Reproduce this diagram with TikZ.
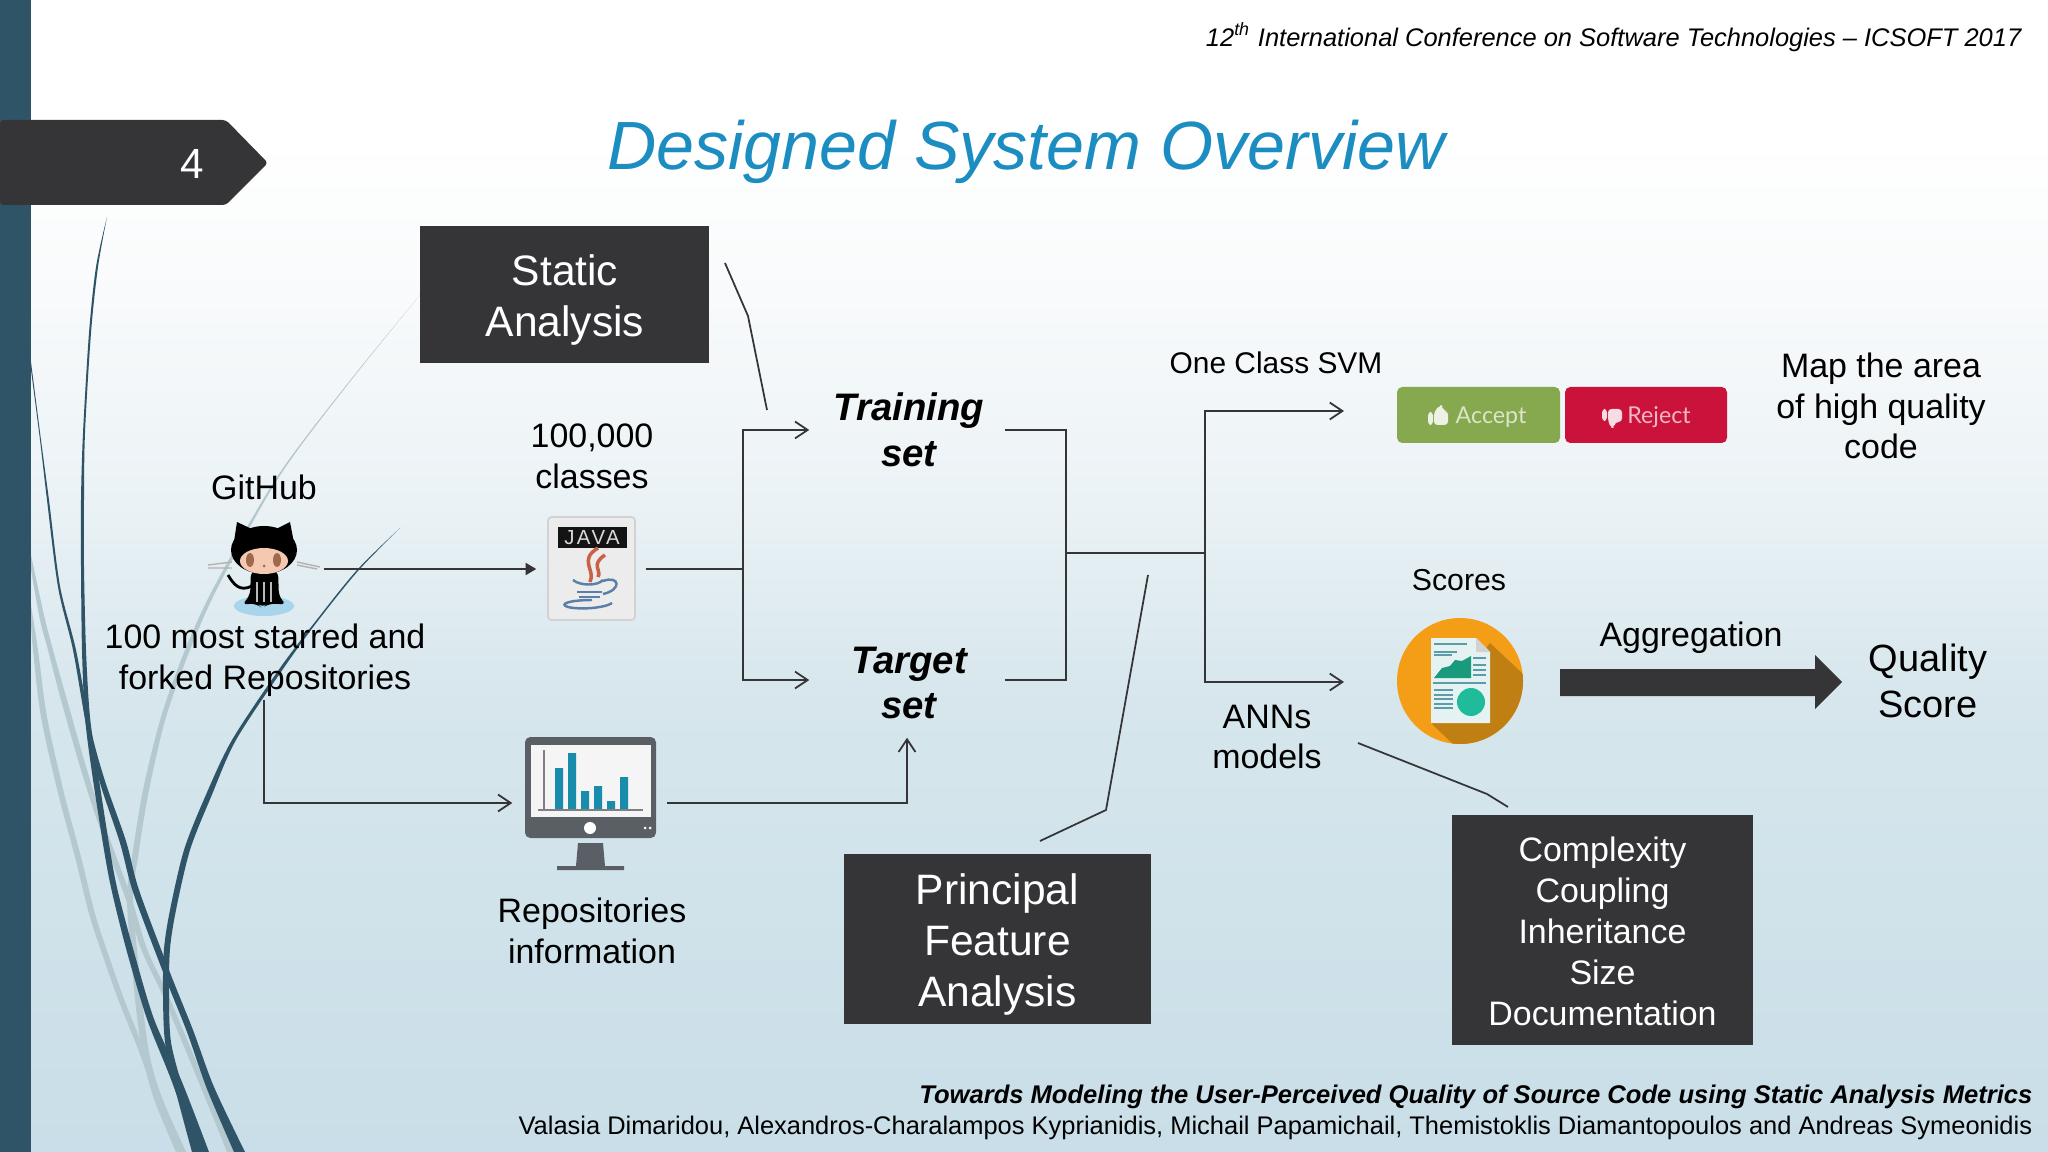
\documentclass[tikz,border=0pt]{standalone}
\usepackage{fontspec}
\setmainfont{Liberation Sans}
\newfontfamily\latofont{Lato}
\usetikzlibrary{arrows.meta}
\definecolor{slidedark}{HTML}{353538}
\definecolor{bandblue}{HTML}{2F5468}
\definecolor{swooshgrey}{HTML}{B4C8CF}
\definecolor{titleblue}{HTML}{1C8DC0}
\definecolor{barteal}{HTML}{1A8CAB}
\definecolor{screengrey}{HTML}{5A5F66}
\definecolor{docline}{HTML}{5C9CA8}
\definecolor{bgbot}{HTML}{C9DEE8}
\definecolor{bgmid}{HTML}{D6E6EC}
\definecolor{bgpale}{HTML}{ECF3F6}
\definecolor{bgtop}{HTML}{F8FAFB}
\definecolor{acceptgreen}{HTML}{86A84F}
\definecolor{rejectred}{HTML}{CA123A}
\definecolor{reportorange}{HTML}{F49E17}
\definecolor{reportshadow}{HTML}{BF7F12}
\definecolor{chartgreen}{HTML}{1A9A7C}
\definecolor{piegreen}{HTML}{1FBB9A}
\definecolor{catskin}{HTML}{F4C9B0}
\definecolor{cateye}{HTML}{A0694F}
\definecolor{catpool}{HTML}{A8D4EC}
\definecolor{steamred}{HTML}{C8604A}
\definecolor{cupblue}{HTML}{5C7FA8}
\pgfdeclareverticalshading{slidebg}{100bp}{color(0bp)=(bgbot); color(25bp)=(bgbot); color(44.5bp)=(bgmid); color(54bp)=(bgpale); color(62bp)=(bgtop); color(69bp)=(white); color(100bp)=(white)}
\tikzset{
  darkbox/.style={fill=slidedark, inner sep=0pt},
  boxtext/.style={text=white, align=center, inner sep=0pt, font=\fontsize{12.1}{14.6}\selectfont},
  label/.style={align=center, inner sep=0pt, text=black, font=\fontsize{9.65}{11.6}\selectfont},
  setbox/.style={inner sep=0pt, minimum width=1.94cm, minimum height=1.14cm},
  setlabel/.style={align=center, inner sep=0pt, text=black, font=\fontsize{10.9}{13}\bfseries\itshape\selectfont},
  iconbox/.style={inner sep=0pt},
  conn/.style={draw=slidedark, line width=0.5pt},
  openarrow/.style={conn, -{Straight Barb[length=3.6pt,width=4.8pt]}},
  fillarrow/.style={conn, -{Triangle[length=3pt,width=3.4pt]}},
  callout/.style={draw=slidedark, line width=0.5pt},
  button/.style={rounded corners=1.5pt},
}
\begin{document}
\begin{tikzpicture}[x=0.01cm, y=-0.01cm]
\useasboundingbox (0,0) rectangle (2048,1152);

% background
\shade [shading=slidebg] (0,0) rectangle (2048,1152);

% swooshes
\fill [swooshgrey] plot [smooth] coordinates {(420,295) (348,383) (277,477) (214,587) (185,650) (161,717) (143,790) (132,857) (127,900) (134,989) (142,1052) (154,1099) (176,1152)} -- plot [smooth] coordinates {(186,1152) (162,1099) (149,1052) (141,989) (133,900) (138,857) (149,790) (166,717) (190,650) (218,587) (279,477) (349,383) (420,295)} -- cycle;
\fill [swooshgrey] plot [smooth] coordinates {(31,570) (40,620) (48,650) (61,700) (81,770) (98,823) (125,897) (141,949) (161,992) (185,1049) (208,1105) (227,1152)} -- plot [smooth] coordinates {(236,1152) (215,1105) (191,1049) (167,992) (147,949) (131,897) (104,823) (87,770) (67,700) (53,650) (44,615) (31,555)} -- cycle;
\fill [swooshgrey] plot [smooth] coordinates {(31,625) (33,650) (41,717) (58,793) (75,857) (88,910) (98,942) (118,999) (138,1049) (158,1105) (177,1152)} -- plot [smooth] coordinates {(186,1152) (165,1105) (144,1049) (124,999) (104,942) (94,910) (81,857) (64,793) (47,717) (38,650) (31,605)} -- cycle;
\fill [bandblue] plot [smooth] coordinates {(31,370) (40,440) (47,500) (58,587) (73,650) (87,730) (100,783) (120,843) (133,892) (163,972) (187,1032) (207,1089) (234,1152)} -- plot [smooth] coordinates {(245,1152) (214,1087) (193,1030) (169,970) (139,890) (126,841) (105,781) (91,730) (76,650) (60,586) (49,500) (41,440) (31,362)} -- cycle;
\fill [bandblue] plot [smooth] coordinates {(107,217) (96,267) (89,333) (83,433) (81,500) (81,566) (82,650) (85,717) (92,773) (104,850) (112,892) (127,952) (147,1019) (172,1082) (196,1152)} -- plot [smooth] coordinates {(209,1152) (182,1082) (154,1019) (134,952) (118,892) (110,850) (98,773) (90,717) (86,650) (84,566) (84,500) (85,433) (91,333) (98,267) (107,217)} -- cycle;
\fill [bandblue] plot [smooth] coordinates {(400,528) (357,570) (315,622) (280,668) (232,740) (205,797) (184,850) (170,910) (164,949) (163,992) (165,1042) (176,1092) (192,1152)} -- plot [smooth] coordinates {(203,1152) (184,1092) (171,1042) (169,992) (170,949) (176,910) (190,850) (211,797) (236,740) (283,669) (317,622) (358,571) (400,528)} -- cycle;
\fill [bandblue] (0,0) rectangle (31,1152);

% slide number
\fill [slidedark, rounded corners=1pt] (0,120) -- (226,120) -- (268,163) -- (226,205) -- (0,205) -- cycle;
\node [text=white, inner sep=0pt, font=\fontsize{12}{14}\selectfont] (slidenum) at (192,164) {4};

% header
\node [anchor=east, inner sep=0pt, text=black, font=\fontsize{7.24}{9}\itshape\selectfont] (confname) at (2022,37) {12\textsuperscript{th} International Conference on Software Technologies -- ICSOFT 2017};
\node [inner sep=0pt, text=titleblue, font=\fontsize{19.4}{22}\itshape\selectfont] (slidetitle) at (1026,152) {Designed System Overview};

% footer
\node [anchor=east, inner sep=0pt, text=black, font=\fontsize{7.27}{9}\bfseries\itshape\selectfont] (papertitle) at (2033,1097) {Towards Modeling the User-Perceived Quality of Source Code using Static Analysis Metrics};
\node [anchor=east, inner sep=0pt, text=black, font=\fontsize{7.24}{9}\selectfont] (authors) at (2033,1128) {Valasia Dimaridou, Alexandros-Charalampos Kyprianidis, Michail Papamichail, Themistoklis Diamantopoulos and Andreas Symeonidis};

% dark boxes
\node [darkbox, minimum width=2.89cm, minimum height=1.37cm] (static) at (564.5,294.5) {};
\node [boxtext] (statictext) at (565,300) {Static\\Analysis};
\node [darkbox, minimum width=3.07cm, minimum height=1.70cm] (pfa) at (997.5,939) {};
\node [boxtext] (pfatext) at (997.5,944.5) {Principal\\Feature\\Analysis};
\node [darkbox, minimum width=3.01cm, minimum height=2.30cm] (metrics) at (1602.5,930) {};
\node [boxtext, font=\fontsize{9.65}{11.7}\selectfont] (metricstext) at (1602.5,931.5) {Complexity\\Coupling\\Inheritance\\Size\\Documentation};

% labels
\node [label] (githublabel) at (264,487) {GitHub};
\node [label] (classes) at (592,456) {100,000\\classes};
\node [label] (starred) at (265,660) {100 most starred and\\forked Repositories};
\node [label] (repoinfo) at (592,931) {Repositories\\information};
\node [label, font=\fontsize{8.5}{10}\selectfont] (svm) at (1276,363) {One Class SVM};
\node [label] (maparea) at (1881,406) {Map the area\\of high quality\\code};
\node [label, font=\fontsize{8.6}{10}\selectfont] (scores) at (1459,580) {Scores};
\node [label] (aggregation) at (1691,638) {Aggregation};
\node [label, font=\fontsize{10.8}{13}\selectfont] (quality) at (1928,681) {Quality\\Score};
\node [label] (anns) at (1267,737) {ANNs\\models};
\node [setbox] (training) at (907,430) {};
\node [setlabel] (trainingtext) at (909,430) {Training\\set};
\node [setbox] (targetset) at (907,680) {};
\node [setlabel] (targettext) at (909,683) {Target\\set};

% octocat
\node [iconbox, minimum width=1.18cm, minimum height=0.9cm] (github) at (264,569) {};
\fill [catpool] (264,606) ellipse (30 and 10);
\draw [gray!60, line width=0.4pt] (208,565) -- (232,562) (208,568) -- (232,568) (297,562) -- (320,567) (297,565) -- (317,569);
\fill [black] (264,550) ellipse (33 and 24);
\fill [black] (233,548) -- (237,522) -- (256,531) -- cycle (295,548) -- (290,522) -- (272,531) -- cycle;
\fill [black, rounded corners=2pt] (251,570) -- (278,570) -- (279,598) -- (287,605) -- (270,603) -- (262,608) -- (256,603) -- (241,605) -- (250,597) -- cycle;
\draw [black, line width=0.8pt] (252,586) .. controls (240,592) and (234,585) .. (228,575);
\fill [catskin] (264,561) ellipse (24 and 13);
\fill [cateye] (250,560) ellipse (4 and 7) (277,560) ellipse (4 and 7) (264,566) circle (1.5);
\draw [gray!55, line width=0.5pt] (257,582) -- (257,602) (264,582) -- (264,602) (271,582) -- (271,602);

% java file
\node [iconbox, minimum width=1.08cm, minimum height=1.08cm] (java) at (591,569) {};
\fill [gray!15, draw=gray!35, line width=0.5pt, rounded corners=1pt] (548,517) rectangle (635,620);
\fill [black!92] (558,527) rectangle (627,548);
\node [text=gray!30, inner sep=0pt, font=\fontsize{5.8}{7}\selectfont\addfontfeatures{LetterSpace=12}] (javaword) at (592,538) {JAVA};
\draw [steamred, line width=1pt] (598,548) .. controls (578,560) and (596,570) .. (590,582) (605,555) .. controls (590,565) and (602,570) .. (598,577);
\draw [cupblue, line width=0.7pt] (573,580) .. controls (580,586) and (598,586) .. (603,580);
\draw [cupblue, line width=0.7pt] (603,581) .. controls (620,575) and (622,590) .. (603,594);
\draw [cupblue, line width=0.8pt] (577,592) -- (602,592) (579,597) -- (600,597);
\draw [cupblue, line width=0.7pt] (592,600) .. controls (570,600) and (558,604) .. (568,607) .. controls (580,610) and (605,608) .. (612,603);

% monitor with bars
\node [iconbox, minimum width=1.53cm, minimum height=1.34cm] (monitor) at (589.5,803) {};
\fill [screengrey, rounded corners=1.5pt] (525,737) rectangle (656,838);
\fill [white!92!gray] (531,745) rectangle (651,817);
\fill [barteal] (555,768) rectangle (563,810) (568,753) rectangle (576,810) (581,791) rectangle (589,810) (594,786) rectangle (602,810) (607,801) rectangle (615,810) (620,777) rectangle (628,810);
\draw [gray, line width=0.3pt] (538,810) -- (643,810) (544,750) -- (544,810);
\fill [white] (590,828) circle (6) (645,828) circle (1.5) (650,828) circle (1.5);
\fill [screengrey] (578,843) -- (603,843) -- (605,866) -- (624,866) -- (624,870) -- (557,870) -- (557,866) -- (576,866) -- cycle;

% buttons
\fill [button, fill=acceptgreen] (1397,387) rectangle (1560,443);
\node [inner sep=0pt, text=acceptgreen!30!white, font=\latofont\fontsize{6.6}{8}\selectfont] (accept) at (1491,417) {Accept};
\fill [button, fill=rejectred] (1565,387) rectangle (1727,443);
\node [inner sep=0pt, text=rejectred!30!white, font=\latofont\fontsize{6.6}{8}\selectfont] (reject) at (1659,417) {Reject};
\fill [acceptgreen!15!white, rounded corners=1pt] (1428,412) rectangle (1433,425) (1434,412) -- (1440,405) -- (1443,406) -- (1443,411) -- (1448,411) -- (1448,425) -- (1434,425) -- cycle;
\fill [rejectred!15!white, rounded corners=1pt] (1602,409) rectangle (1607,421) (1608,409) -- (1622,409) -- (1622,422) -- (1615,422) -- (1614,428) -- (1611,428) -- (1608,421) -- cycle;

% report icon
\node [iconbox, minimum width=1.26cm, minimum height=1.26cm] (report) at (1460,681) {};
\fill [reportorange] (report.center) circle (63);
\begin{scope}
\clip (report.center) circle (63);
\fill [reportshadow] (1490,643) -- (1540,690) -- (1540,770) -- (1480,770) -- (1431,723) -- cycle;
\end{scope}
\fill [white!90!teal] (1431,638) -- (1476,638) -- (1490,652) -- (1490,723) -- (1431,723) -- cycle;
\fill [gray!35] (1476,638) -- (1490,652) -- (1476,652) -- cycle;
\draw [docline, line width=0.4pt] (1434,644) -- (1467,644) (1434,652) -- (1457,652) (1434,655) -- (1452,655);
\draw [docline, line width=0.4pt] (1473,658) -- (1486,658) (1473,665) -- (1486,665) (1473,670) -- (1486,670) (1473,675) -- (1486,675);
\draw [docline, line width=0.7pt] (1433,683) -- (1486,683);
\draw [docline, line width=0.4pt] (1434,690) -- (1453,690) (1434,695) -- (1453,695) (1434,699) -- (1453,699) (1434,704) -- (1453,704) (1434,708) -- (1453,708);
\fill [chartgreen] (1434,678) -- (1442,668) -- (1450,666) -- (1455,660) -- (1462,661) -- (1471,656) -- (1471,678) -- cycle;
\fill [piegreen] (1471,702) circle (14);

% fat arrow
\fill [slidedark] (1560,669) -- (1815,669) -- (1815,655) -- (1842,682) -- (1815,709) -- (1815,696) -- (1560,696) -- cycle;

% junctions
\coordinate (split1) at (743,569);
\coordinate (merge) at (1066,553);
\coordinate (split2) at (1205,553);
\coordinate (starreddown) at (264,700);
\coordinate (svmend) at (1344,411);
\coordinate (annend) at (1344,682);

% connectors
\draw [fillarrow] (github.east) -- (java.west);
\draw [conn] (java.east) -- (split1);
\draw [openarrow] (split1) |- (training.west);
\draw [openarrow] (split1) |- (targetset.west);
\draw [openarrow] (starreddown) |- (monitor.west);
\draw [openarrow] (monitor.east) -| (targetset.south);
\draw [conn] (training.east) -| (merge);
\draw [conn] (targetset.east) -| (merge);
\draw [conn] (merge) -- (split2);
\draw [openarrow] (split2) |- (svmend);
\draw [openarrow] (split2) |- (annend);

% callouts
\coordinate (staticfrom) at (725,263);
\coordinate (staticto) at (767,410);
\coordinate (pfato) at (1148,575);
\coordinate (pfafrom) at (1040,841);
\coordinate (metricsfrom) at (1508,807);
\coordinate (metricsto) at (1358,743);
\draw [callout] (staticfrom) -- (748,316) -- (staticto);
\draw [callout] (pfafrom) -- (1106,810) -- (pfato);
\draw [callout] (metricsfrom) -- (1487,794) -- (metricsto);
\end{tikzpicture}
\end{document}
